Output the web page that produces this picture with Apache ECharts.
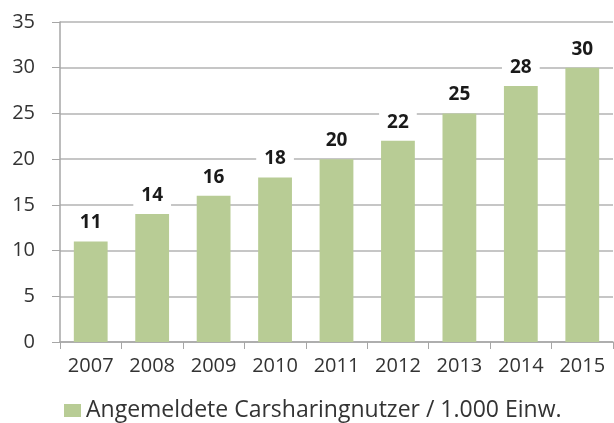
<!DOCTYPE html>
<html><head><meta charset="utf-8">
<script src="https://cdn.jsdelivr.net/npm/echarts@6/dist/echarts.min.js"></script>
<style>html,body{margin:0;padding:0;background:#fff}#c{width:614px;height:423px}</style>
</head><body><div id="c"></div>
<script>
const categories = ['2007','2008','2009','2010','2011','2012','2013','2014','2015'];
const values = [11,14,16,18,20,22,25,28,30];
const seriesName = 'Angemeldete Carsharingnutzer / 1.000 Einw.';
const yTicks = {min:0, max:35, interval:5};

const chart = echarts.init(document.getElementById('c'), null, {renderer:'canvas'});
chart.setOption({
  animation:false,
  textStyle:{fontFamily:'Open Sans'},
  grid:{left:60, right:1, top:22, bottom:81},
  legend:{
    data:[seriesName], left:59, top:394, itemWidth:17, itemHeight:13, itemGap:6,
    icon:'rect',
    textStyle:{fontSize:23, color:'#333', fontFamily:'Open Sans'}
  },
  xAxis:{
    type:'category', data:categories,
    axisLine:{lineStyle:{color:'#a6a6a6', width:1.5}},
    axisTick:{show:true, length:7, inside:false, lineStyle:{color:'#a6a6a6'}},
    axisLabel:{fontSize:20, color:'#333', margin:14}
  },
  yAxis:{
    type:'value', min:yTicks.min, max:yTicks.max, interval:yTicks.interval,
    axisLine:{show:true, lineStyle:{color:'#a6a6a6', width:1.5}},
    axisTick:{show:true, length:8, lineStyle:{color:'#a6a6a6'}},
    splitLine:{lineStyle:{color:'#b3b3b3', width:1.5}},
    axisLabel:{fontSize:20, color:'#333', margin:25}
  },
  series:[{
    name:seriesName, type:'bar', data:values, barWidth:'55%',
    itemStyle:{color:'#b8cc95'},
    label:{show:true, position:'top', distance:7, fontSize:19, fontWeight:'bold', color:'#1a1a1a',
      backgroundColor:'#fff', padding:[2,8,2,8]}
  }]
});
</script></body></html>
